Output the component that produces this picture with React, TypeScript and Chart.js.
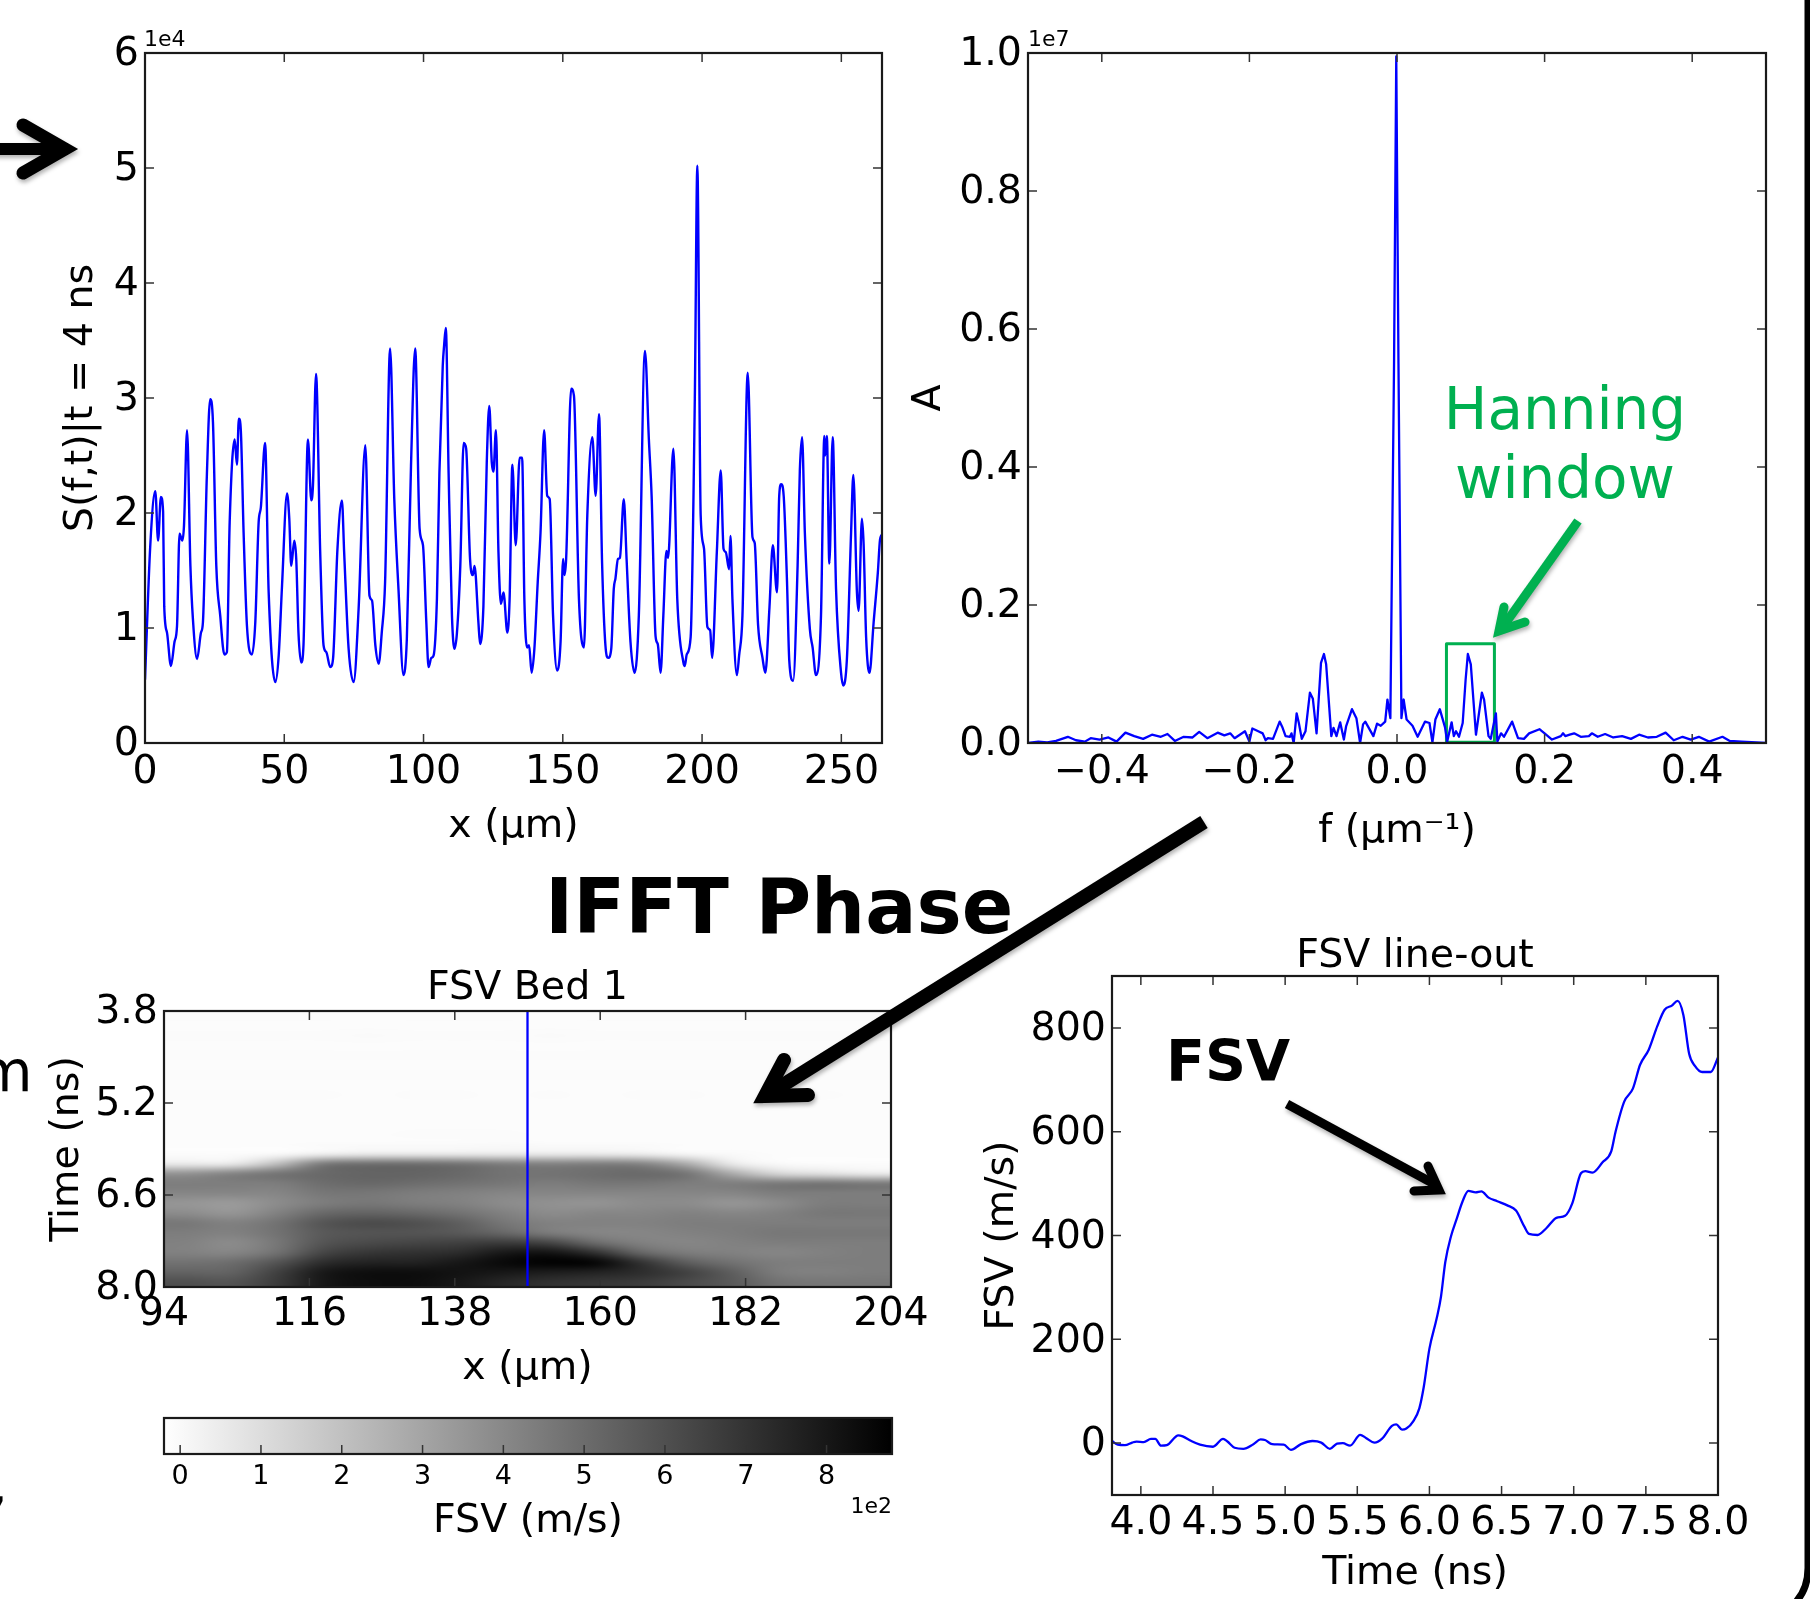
import React, { useEffect, useRef } from "react";
import { Chart, registerables } from "chart.js";

Chart.register(...registerables);

/* ---------- data ---------- */
const signalX = [0,1.9,3.7,4.7,5.7,6.5,6.9,7.9,9.3,10.6,11.5,12.4,13.4,14.0,15.1,16.3,17.2,18.7,20.1,20.8,22.2,23.4,24.4,25.6,27.0,28.5,29.4,30.4,32.2,33.0,33.7,34.4,35.4,36.6,38.4,39.6,40.8,41.6,43.1,44.4,46.8,48.0,49.2,51.0,51.8,52.5,53.6,54.3,55.1,56.1,56.9,58.5,59.7,60.3,61.4,62.9,64.1,65.1,66.5,67.5,69.1,70.7,71.5,73.1,74.9,76.7,79.1,80.6,81.5,82.7,83.9,85.0,86.2,88.0,89.5,91.0,92.8,94.0,95.5,97.0,98.6,99.8,101.0,101.8,102.8,103.6,104.8,105.7,106.9,107.4,108.0,109.0,110.2,111.1,112.0,113.2,114.4,115.3,116.7,117.7,118.3,119.7,120.3,121.5,122.7,123.6,124.5,125.1,126.0,126.9,127.8,128.7,130.1,130.9,131.9,133.1,134.5,135.4,136.2,137.2,137.9,138.8,139.8,141.0,142.0,143.3,144.4,145.3,146.5,148.0,149.2,150.1,150.6,151.2,153.0,154.0,155.8,157.6,158.8,160.6,161.8,163.0,164.1,165.3,166.3,167.4,168.3,168.9,169.8,170.5,171.9,172.9,174.3,175.8,177.3,179.5,180.9,181.9,183.3,184.1,185.1,186.1,187.2,187.8,189.7,191.1,193.3,193.8,194.5,195.9,197.4,198.3,199.5,200.7,201.9,202.9,203.6,205.3,206.7,207.7,208.5,209.7,210.2,210.9,212.5,213.3,214.5,216.4,218.1,218.9,220.1,221.7,222.7,224.2,225.4,226.9,227.7,228.4,229.3,230.5,231.3,232.7,234.3,235.1,235.9,236.9,238.7,239.7,240.9,242.7,243.9,244.2,244.8,245.7,246.9,248.1,249.9,250.7,252.0,253.5,254.3,255.6,256.2,257.4,258.0,258.9,260.1,261.6,263.1,263.9,264.6,265];
const signalY = [0.55,1.72,2.19,1.76,2.14,2.01,1.19,0.96,0.67,0.88,1.02,1.82,1.76,1.89,2.72,1.54,1.08,0.73,0.96,1.05,2.32,2.99,2.79,1.54,1.11,0.77,0.79,1.92,2.64,2.42,2.82,2.72,1.83,1.02,0.77,1.05,1.92,2.05,2.61,1.31,0.53,0.76,1.37,2.17,1.95,1.54,1.76,1.60,0.96,0.70,0.85,2.64,2.11,2.24,3.21,1.66,0.85,0.79,0.66,0.73,1.69,2.11,1.66,0.82,0.53,1.17,2.59,1.28,1.24,0.85,0.69,0.96,1.40,3.43,2.12,1.34,0.59,0.90,2.41,3.43,1.86,1.72,1.05,0.66,0.74,0.76,1.25,2.35,3.28,3.46,3.61,2.35,1.11,0.82,0.96,1.54,2.61,2.56,1.60,1.46,1.54,1.05,0.86,1.19,2.44,2.93,2.44,2.36,2.72,1.66,1.21,1.31,0.96,1.25,2.42,1.72,2.48,2.48,1.25,0.83,0.85,0.61,0.82,1.40,1.83,2.72,2.15,2.12,1.11,0.63,0.88,1.60,1.46,1.60,3.08,3.02,1.25,0.83,1.98,2.66,2.15,2.86,1.57,0.85,0.74,0.82,1.34,1.43,1.60,1.61,2.12,1.60,0.88,0.61,1.11,3.41,2.64,2.14,0.93,0.86,0.61,1.11,1.67,1.61,2.56,1.25,0.70,0.67,0.77,0.92,3.00,5.02,1.98,1.69,1.01,0.98,0.74,1.66,2.37,1.69,1.66,1.51,1.80,1.25,0.59,0.76,1.11,3.22,1.79,1.74,1.03,0.74,0.61,1.18,1.72,1.31,2.15,2.25,2.15,1.40,0.72,0.54,1.54,2.37,2.66,1.83,0.99,0.83,0.59,1.11,2.67,2.50,2.67,1.56,2.66,1.34,0.61,0.50,0.73,1.83,2.33,1.31,1.15,1.95,1.73,0.92,0.61,1.05,1.48,1.77,1.81,1.72];

const freqX = [-0.5,-0.486,-0.474,-0.462,-0.446,-0.435,-0.423,-0.415,-0.403,-0.391,-0.38,-0.368,-0.356,-0.344,-0.332,-0.32,-0.311,-0.301,-0.289,-0.277,-0.268,-0.257,-0.243,-0.234,-0.226,-0.22,-0.206,-0.2,-0.196,-0.188,-0.182,-0.178,-0.175,-0.168,-0.159,-0.155,-0.151,-0.145,-0.143,-0.14,-0.136,-0.133,-0.129,-0.124,-0.118,-0.114,-0.109,-0.103,-0.099,-0.096,-0.089,-0.086,-0.082,-0.077,-0.072,-0.069,-0.061,-0.055,-0.05,-0.046,-0.043,-0.032,-0.027,-0.022,-0.016,-0.013,-0.009,-0.004,-0.001,0.002,0.006,0.009,0.013,0.021,0.028,0.038,0.044,0.048,0.052,0.058,0.065,0.068,0.074,0.077,0.08,0.084,0.089,0.093,0.096,0.1,0.107,0.115,0.118,0.124,0.127,0.134,0.136,0.141,0.145,0.156,0.164,0.172,0.179,0.193,0.2,0.21,0.222,0.225,0.228,0.234,0.24,0.249,0.26,0.264,0.272,0.282,0.293,0.305,0.317,0.328,0.34,0.352,0.364,0.375,0.387,0.398,0.409,0.423,0.441,0.451,0.467,0.487,0.5];
const freqY = [0,0.002,0.001,0.003,0.009,0.004,0.002,0.007,0.005,0.008,0.002,0.015,0.01,0.006,0.012,0.009,0.013,0.003,0.009,0.008,0.016,0.007,0.015,0.011,0.014,0.007,0.017,0.002,0.021,0.017,0.014,0.004,0.007,0.006,0.031,0.022,0.01,0.009,0.014,0,0.043,0.029,0.006,0.017,0.073,0.064,0.014,0.116,0.129,0.114,0.01,0.022,0.01,0.03,0.005,0.024,0.049,0.036,0,0.027,0.031,0.01,0.028,0.025,0.031,0.063,0.036,0.55,0.995,0.55,0.036,0.063,0.034,0.025,0.009,0.031,0.029,0.001,0.034,0.049,0.023,0.002,0.03,0.01,0.017,0.009,0.029,0.092,0.129,0.114,0.012,0.073,0.063,0.01,0.006,0.043,0.002,0.014,0.009,0.031,0.007,0.006,0.014,0.02,0.014,0.005,0.01,0.014,0.01,0.012,0.014,0.009,0.01,0.014,0.009,0.013,0.008,0.01,0.006,0.012,0.008,0.009,0.015,0.004,0.009,0.005,0.009,0.002,0.009,0.003,0.002,0.001,0];
const hanningX = [0.067,0.132,0.132,0.067,0.067];
const hanningY = [0.001,0.001,0.144,0.144,0.001];

const lineoutT = [3.8,3.84,3.89,3.94,3.97,4.02,4.07,4.10,4.14,4.18,4.26,4.29,4.35,4.41,4.50,4.57,4.60,4.65,4.71,4.78,4.83,4.86,4.91,4.99,5.04,5.11,5.19,5.25,5.31,5.36,5.40,5.45,5.52,5.56,5.62,5.67,5.74,5.77,5.81,5.84,5.89,5.93,5.96,6.0,6.05,6.08,6.11,6.15,6.19,6.23,6.27,6.32,6.36,6.41,6.47,6.54,6.60,6.66,6.69,6.75,6.81,6.88,6.94,6.99,7.05,7.08,7.13,7.20,7.26,7.29,7.35,7.41,7.46,7.52,7.58,7.63,7.68,7.72,7.76,7.80,7.84,7.89,7.95,8.0];
const lineoutV = [4,-3,-4,1,3,2,8,8,-5,-4,15,13,4,-3,-7,8,3,-9,-11,-2,7,6,-2,-3,-13,-2,4,1,-11,-1,0,-5,16,10,1,8,33,36,26,28,43,67,107,182,240,282,349,399,433,466,486,483,485,473,466,458,448,416,403,401,414,434,438,462,520,524,521,541,562,600,658,683,729,758,804,835,843,852,825,750,727,715,715,743];

const bedX = [149, 149];
const bedT = [3.8, 8.0];

/* FSV map in m/s: 28 rows from t = 3.8 to 8.0 ns, 16 columns from x = 94 to 204 um */
const fsvGrid = [
  [-6,-5,-6,-6,-5,-5,-6,-6,-6,-5,-6,-5,-6,-6,-6,-6],
  [-9,-9,-9,-8,-8,-9,-9,-10,-10,-9,-9,-9,-10,-10,-9,-9],
  [-5,-6,-6,-5,-4,-5,-6,-5,-4,-5,-5,-6,-5,-6,-6,-5],
  [-10,-10,-9,-10,-10,-11,-10,-10,-11,-10,-9,-10,-11,-11,-10,-10],
  [-7,-6,-7,-6,-6,-7,-6,-6,-7,-7,-6,-6,-7,-7,-6,-7],
  [-11,-11,-10,-10,-11,-10,-10,-11,-10,-11,-11,-10,-11,-11,-11,-10],
  [-6,-7,-6,-7,-6,-6,-7,-6,-6,-7,-6,-7,-6,-7,-6,-7],
  [-10,-10,-11,-9,-10,-10,-9,-10,-10,-11,-10,-10,-11,-10,-10,-11],
  [-7,-7,-6,-7,-8,-7,-7,-8,-7,-8,-7,-7,-8,-7,-7,-8],
  [-10,-9,-10,-10,-10,-9,-10,-10,-9,-10,-10,-10,-9,-10,-10,-10],
  [-8,-9,-8,-8,-8,-9,-8,-8,-9,-8,-8,-9,-8,-8,-9,-9],
  [-10,-10,-9,-9,-10,-9,-9,-9,-9,-9,-10,-10,-9,-10,-10,-10],
  [-9,-9,-9,-8,-8,-7,-7,-7,-8,-8,-8,-9,-9,-10,-10,-10],
  [-10,-10,-9,-7,-6,-5,-5,-4,-5,-6,-7,-9,-10,-11,-11,-11],
  [-11,-11,-4,30,50,50,50,50,50,50,40,10,-4,-11,-11,-11],
  [49,49,210,459,495,495,477,441,424,441,424,281,49,-4,-11,-11],
  [370,424,477,513,531,531,513,477,477,495,513,477,281,121,85,49],
  [441,441,441,495,513,495,477,459,441,459,459,441,441,459,477,459],
  [406,406,406,459,459,441,424,406,406,406,406,406,406,441,441,441],
  [352,335,388,441,459,441,424,388,370,359,388,388,352,388,441,441],
  [388,352,424,513,531,513,477,424,388,406,406,424,406,424,459,459],
  [459,424,477,584,620,602,548,459,424,424,424,441,441,441,441,441],
  [441,424,477,566,584,584,566,513,441,406,406,424,441,459,459,459],
  [424,388,459,584,620,638,655,673,638,495,424,406,424,441,441,441],
  [424,406,477,638,691,709,727,798,816,709,513,441,424,406,424,441],
  [477,495,584,727,762,762,798,851,887,869,709,548,477,441,441,441],
  [531,531,655,798,834,834,816,798,780,762,727,655,548,441,424,441],
  [602,584,673,798,834,834,798,744,709,691,673,620,566,477,459,459],
];
const fsvMin = -20;
const fsvMax = 881;

const signalTicksX = [0,50,100,150,200,250];
const signalTicksY = [0,1,2,3,4,5,6];
const freqTicksX = [-0.4,-0.2,0,0.2,0.4];
const freqTicksY = [0,0.2,0.4,0.6,0.8,1];
const bedTicksX = [94,116,138,160,182,204];
const bedTicksT = [3.8,5.2,6.6,8.0];
const barTicks = [0,100,200,300,400,500,600,700,800];
const lineoutTicksT = [4,4.5,5,5.5,6,6.5,7,7.5,8];
const lineoutTicksV = [0,200,400,600,800];

/* ---------- helpers ---------- */
const FONT = '"DejaVu Sans", sans-serif';
const BLUE = "#0000ff";
const GREEN = "#00b050";
const INK = "#1a1a1a";
const LABEL_SIZE = 39.5;
const zip = (xs: number[], ys: number[]) => xs.map((x, i) => ({ x, y: ys[i] }));

const nudgeYLabels = {
  id: "nudgeYLabels",
  beforeDraw(chart: any) {
    const y = chart.scales.y;
    if (!y || !y.options.display) return;
    for (const item of y.getLabelItems(chart.chartArea)) item.options.translation[1] += 2;
  },
};

const frame = {
  id: "frame",
  afterDatasetsDraw(chart: any, _a: any, opts: any) {
    const { ctx, chartArea: c, scales } = chart;
    const len = opts.tick ?? 9;
    ctx.save();
    ctx.strokeStyle = "#333";
    ctx.lineWidth = 1.5;
    ctx.beginPath();
    if (scales.x) for (const t of scales.x.ticks) {
      const p = scales.x.getPixelForValue(t.value);
      ctx.moveTo(p, c.bottom); ctx.lineTo(p, c.bottom - len);
      if (!opts.bottomOnly) { ctx.moveTo(p, c.top); ctx.lineTo(p, c.top + len); }
    }
    if (scales.y && !opts.bottomOnly) for (const t of scales.y.ticks) {
      const p = scales.y.getPixelForValue(t.value);
      ctx.moveTo(c.left, p); ctx.lineTo(c.left + len, p);
      ctx.moveTo(c.right, p); ctx.lineTo(c.right - len, p);
    }
    ctx.stroke();
    ctx.strokeStyle = INK;
    ctx.lineWidth = 2.2;
    ctx.strokeRect(c.left, c.top, c.right - c.left, c.bottom - c.top);
    ctx.restore();
  },
};

const shade = (v: number) => {
  const t = Math.min(1, Math.max(0, (v - fsvMin) / (fsvMax - fsvMin)));
  return Math.round(255 * (1 - t));
};

const heatmap = {
  id: "heatmap",
  beforeDatasetsDraw(chart: any) {
    const { ctx, scales } = chart;
    const rows = fsvGrid.length, cols = fsvGrid[0].length;
    const off = document.createElement("canvas");
    off.width = cols; off.height = rows;
    const o = off.getContext("2d")!;
    const img = o.createImageData(cols, rows);
    fsvGrid.forEach((row, r) => row.forEach((v, c) => {
      const g = shade(v), i = (r * cols + c) * 4;
      img.data[i] = img.data[i + 1] = img.data[i + 2] = g;
      img.data[i + 3] = 255;
    }));
    o.putImageData(img, 0, 0);
    const x0 = scales.x.getPixelForValue(scales.x.min), x1 = scales.x.getPixelForValue(scales.x.max);
    const y0 = scales.y.getPixelForValue(scales.y.min), y1 = scales.y.getPixelForValue(scales.y.max);
    ctx.save();
    ctx.imageSmoothingEnabled = true;
    ctx.imageSmoothingQuality = "high";
    ctx.drawImage(off, Math.min(x0, x1), Math.min(y0, y1), Math.abs(x1 - x0), Math.abs(y1 - y0));
    ctx.restore();
  },
};

const colorbar = {
  id: "colorbar",
  beforeDatasetsDraw(chart: any) {
    const { ctx, scales, chartArea: c } = chart;
    const a = scales.x.getPixelForValue(fsvMin), b = scales.x.getPixelForValue(fsvMax);
    const g = ctx.createLinearGradient(a, 0, b, 0);
    g.addColorStop(0, `rgb(${shade(fsvMin)},${shade(fsvMin)},${shade(fsvMin)})`);
    g.addColorStop(1, `rgb(${shade(fsvMax)},${shade(fsvMax)},${shade(fsvMax)})`);
    ctx.save();
    ctx.fillStyle = g;
    ctx.fillRect(c.left, c.top, c.right - c.left, c.bottom - c.top);
    ctx.restore();
  },
};

type Panel = {
  key: string;
  L: number; R: number; T: number; B: number;
  mL: number; mB: number; mT?: number;
  title?: string; titleGap?: number;
  xMin: number; xMax: number; xTicks: number[]; xFmt: (v: number) => string; xPad: number;
  yMin?: number; yMax?: number; yTicks?: number[]; yFmt?: (v: number) => string; reverse?: boolean;
  xTitle: string; yTitle?: string;
  tickSize?: number;
  datasets: any[];
  plugins: any[];
  bottomOnly?: boolean;
};

const minus = (s: string) => s.replace("-", "\u2212");
const line = (data: any[], color = BLUE, width = 2.3, smooth = false) => ({
  data, showLine: true, pointRadius: 0, borderColor: color, borderWidth: width,
  borderJoinStyle: "round", tension: 0, fill: false,
  ...(smooth ? { cubicInterpolationMode: "monotone" } : {}),
});

const panels: Panel[] = [
  { key: "signal", L: 145, R: 882, T: 53, B: 743, mL: 83, mB: 103,
    xMin: 0, xMax: 264.6, xTicks: signalTicksX, xFmt: (v) => String(v), xPad: 6,
    yMin: 0, yMax: 6, yTicks: signalTicksY, yFmt: (v) => String(v),
    xTitle: "x (\u03bcm)", yTitle: "S(f,t)|t = 4 ns",
    datasets: [line(zip(signalX, signalY), BLUE, 2.4, true)], plugins: [nudgeYLabels, frame] },
  { key: "spectrum", L: 1028, R: 1766, T: 53, B: 743, mL: 118, mB: 108,
    xMin: -0.5, xMax: 0.5, xTicks: freqTicksX, xFmt: (v) => minus(v.toFixed(1)), xPad: 6,
    yMin: 0, yMax: 1, yTicks: freqTicksY, yFmt: (v) => v.toFixed(1),
    xTitle: "f (\u03bcm\u207b\u00b9)", yTitle: "A",
    datasets: [line(zip(freqX, freqY)), line(zip(hanningX, hanningY), GREEN, 3)], plugins: [nudgeYLabels, frame] },
  { key: "bed", L: 164, R: 891, T: 1011, B: 1287, mL: 116, mB: 101, mT: 52, title: "FSV Bed 1", titleGap: 3,
    xMin: 94, xMax: 204, xTicks: bedTicksX, xFmt: (v) => String(v), xPad: 4,
    yMin: 3.8, yMax: 8, yTicks: bedTicksT, yFmt: (v) => v.toFixed(1), reverse: true,
    xTitle: "x (\u03bcm)", yTitle: "Time (ns)",
    datasets: [line(zip(bedX, bedT))], plugins: [nudgeYLabels, heatmap, frame] },
  { key: "bar", L: 164, R: 892, T: 1418, B: 1454, mL: 20, mB: 87,
    xMin: fsvMin, xMax: fsvMax, xTicks: barTicks, xFmt: (v) => String(v / 100), xPad: 7,
    xTitle: "FSV (m/s)", tickSize: 27,
    datasets: [{ data: [] }], plugins: [colorbar, frame], bottomOnly: true },
  { key: "lineout", L: 1112, R: 1718, T: 976, B: 1495, mL: 129, mB: 98, mT: 50, title: "FSV line-out", titleGap: 0,
    xMin: 3.8, xMax: 8, xTicks: lineoutTicksT, xFmt: (v) => v.toFixed(1), xPad: 5,
    yMin: -100, yMax: 900, yTicks: lineoutTicksV, yFmt: (v) => String(v),
    xTitle: "Time (ns)", yTitle: "FSV (m/s)",
    datasets: [line(zip(lineoutT, lineoutV), BLUE, 2.3, true)], plugins: [nudgeYLabels, frame] },
];

const MR = 70;
const MT0 = 24;

function PanelChart({ p }: { p: Panel }) {
  const ref = useRef<HTMLCanvasElement>(null);
  const mT = p.mT ?? MT0;
  useEffect(() => {
    const size = p.tickSize ?? LABEL_SIZE;
    const fixTicks = (vals: number[]) => (s: any) => { s.ticks = vals.map((value) => ({ value })); };
    const zeroPad = (s: any) => { s.paddingLeft = s.paddingRight = s.paddingTop = s.paddingBottom = 0; };
    const chart = new Chart(ref.current!, {
      type: "scatter",
      data: { datasets: p.datasets },
      plugins: p.plugins,
      options: {
        responsive: false,
        animation: false,
        layout: { padding: { left: 0, right: MR, bottom: 0, top: p.title ? mT - LABEL_SIZE - (p.titleGap ?? 0) : mT } },
        plugins: {
          legend: { display: false },
          tooltip: { enabled: false },
          frame: { bottomOnly: p.bottomOnly },
          title: p.title
            ? { display: true, text: p.title, color: "#000", fullSize: false,
                font: { family: FONT, size: LABEL_SIZE, weight: "normal", lineHeight: 1 },
                padding: { top: 0, bottom: p.titleGap ?? 0 } }
            : { display: false },
        } as any,
        scales: {
          x: {
            type: "linear", min: p.xMin, max: p.xMax,
            grid: { display: false, drawTicks: false },
            border: { display: false },
            afterBuildTicks: fixTicks(p.xTicks),
            afterFit: (s: any) => { s.height = p.mB; zeroPad(s); },
            ticks: { autoSkip: false, maxRotation: 0, minRotation: 0, padding: p.xPad, color: "#000",
              font: { family: FONT, size }, callback: (v: any) => p.xFmt(Number(v)) },
            title: { display: true, text: p.xTitle, color: "#000", align: "center", padding: 0,
              font: { family: FONT, size: LABEL_SIZE, lineHeight: 1 } },
          },
          y: p.yTicks ? {
            type: "linear", min: p.yMin, max: p.yMax, reverse: !!p.reverse,
            grid: { display: false, drawTicks: false },
            border: { display: false },
            afterBuildTicks: fixTicks(p.yTicks),
            afterFit: (s: any) => { s.width = p.mL; zeroPad(s); },
            ticks: { autoSkip: false, padding: 6, color: "#000",
              font: { family: FONT, size }, callback: (v: any) => p.yFmt!(Number(v)) },
            title: { display: true, text: p.yTitle, color: "#000", padding: 0,
              font: { family: FONT, size: LABEL_SIZE, lineHeight: 1 } },
          } : { display: false, afterFit: (s: any) => { s.width = p.mL; zeroPad(s); } },
        },
      } as any,
    });
    return () => chart.destroy();
  }, []);
  const width = p.mL + (p.R - p.L) + MR;
  const height = mT + (p.B - p.T) + p.mB;
  return (
    <canvas ref={ref} width={width} height={height}
      style={{ position: "absolute", left: p.L - p.mL, top: p.T - mT, width, height }} />
  );
}

function Arrow({ d, color = "#000", w }: { d: string; color?: string; w: number }) {
  return <path d={d} fill="none" stroke={color} strokeWidth={w} strokeLinejoin="miter" strokeLinecap="round" />;
}

export default function App() {
  return (
    <div style={{ position: "fixed", left: 0, top: 0, width: 1810, height: 1599, background: "#fff", overflow: "hidden" }}>
      {panels.map((p) => <PanelChart key={p.key} p={p} />)}
      <svg width={1810} height={1599} style={{ position: "absolute", left: 0, top: 0 }} fontFamily={FONT}>
        <g style={{ filter: "drop-shadow(1px 3px 2px rgba(0,0,0,0.3))" }}>
          <path d="M-10 149 L60 149" stroke="#000" strokeWidth={12} fill="none" />
          <Arrow d="M23 125 L65 149 L23 173" w={13} />
          <path d="M1204 822 L775 1090" stroke="#000" strokeWidth={14} fill="none" />
          <Arrow d="M784 1060 L765 1096 L808 1095" w={14} />
          <path d="M1578 521 L1505 624" stroke={GREEN} strokeWidth={9} fill="none" />
          <Arrow d="M1504 607 L1499 631 L1525 622" color={GREEN} w={9} />
          <path d="M1287 1104 L1436 1185" stroke="#000" strokeWidth={9} fill="none" />
          <Arrow d="M1428 1166 L1439 1190 L1414 1191" w={9} />
        </g>
        <text x={545} y={933} fontSize={76} fontWeight={700}>IFFT Phase</text>
        <text x={1166} y={1081} fontSize={57} fontWeight={700}>FSV</text>
        <text x={1565} y={429} fontSize={58} fill={GREEN} textAnchor="middle">Hanning</text>
        <text x={1565} y={498} fontSize={58} fill={GREEN} textAnchor="middle">window</text>
        <text x={144} y={46} fontSize={22}>1e4</text>
        <text x={1028} y={46} fontSize={22}>1e7</text>
        <text x={892} y={1513} fontSize={22} textAnchor="end">1e2</text>
        <text x={-23} y={1091} fontSize={57}>m</text>
        <text x={-10} y={1503} fontSize={57}>,</text>
        <path d="M1808 -5 L1808 1568 Q1808 1590 1794 1604" stroke="#000" strokeWidth={7} fill="none" />
      </svg>
    </div>
  );
}
